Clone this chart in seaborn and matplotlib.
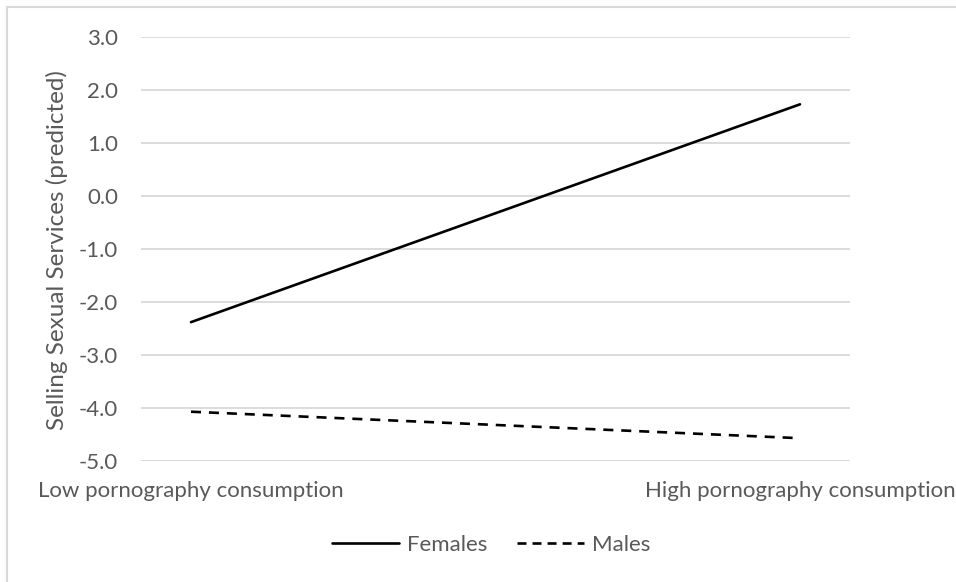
import pandas as pd
import matplotlib
matplotlib.use('Agg')
import matplotlib.pyplot as plt
from matplotlib.lines import Line2D
import seaborn as sns

# values
levels = ['Low pornography consumption', 'High pornography consumption']
females = [-2.38, 1.73]
males = [-4.07, -4.57]
groups = ['Females', 'Males']

df = pd.DataFrame({
    'x': [0, 1, 0, 1],
    'value': females + males,
    'group': ['Females', 'Females', 'Males', 'Males'],
})

sns.set_style('white')
plt.rcParams['font.family'] = ['Lato', 'DejaVu Sans']
text_col = '#595959'
grid_col = '#d9d9d9'

fig = plt.figure(figsize=(9.56, 5.82), dpi=100)
ax = fig.add_axes([141 / 956, 1 - 461 / 582, 709 / 956, 424 / 582])

sns.lineplot(data=df, x='x', y='value', hue='group', style='group',
             palette={'Females': 'black', 'Males': 'black'},
             dashes={'Females': '', 'Males': (3.8, 3)},
             linewidth=1.9, ax=ax, legend=False)

ax.set_xlim(-50 / 609, 1 + 50 / 609)
ax.set_ylim(-5, 3)
ax.set_yticks(range(-5, 4))
ax.set_yticklabels([f'{v:.1f}' for v in range(-5, 4)])
ax.set_xticks([0, 1])
ax.set_xticklabels(levels)
ax.grid(axis='y', color=grid_col, linewidth=1.3)
ax.set_axisbelow(True)
for s in ax.spines.values():
    s.set_visible(False)
ax.tick_params(axis='both', length=0, labelsize=16, labelcolor=text_col)
ax.tick_params(axis='y', pad=16.5)
ax.tick_params(axis='x', pad=14.5)
ax.set_xlabel('')
ax.set_ylabel('')
fig.text(57 / 956, 1 - 250 / 582, 'Selling Sexual Services (predicted)',
         rotation=90, ha='center', va='center', fontsize=17.5, color=text_col)

# legend below the plot
handles = [Line2D([], [], color='black', lw=1.9),
           Line2D([], [], color='black', lw=1.9, dashes=(3.4, 2.3))]
fig.legend(handles, groups, loc='center', bbox_to_anchor=(491 / 956, 1 - 545 / 582),
           ncol=2, frameon=False, fontsize=16, labelcolor=text_col,
           handlelength=3.0, handletextpad=0.36, columnspacing=1.35)

# chart border
fig.patches.append(plt.Rectangle((7 / 956, -0.05), 1.0, 1 - 7 / 582 + 0.05,
                                 transform=fig.transFigure, fill=False,
                                 edgecolor=grid_col, linewidth=1.5))

fig.savefig('out.png', dpi=100)
